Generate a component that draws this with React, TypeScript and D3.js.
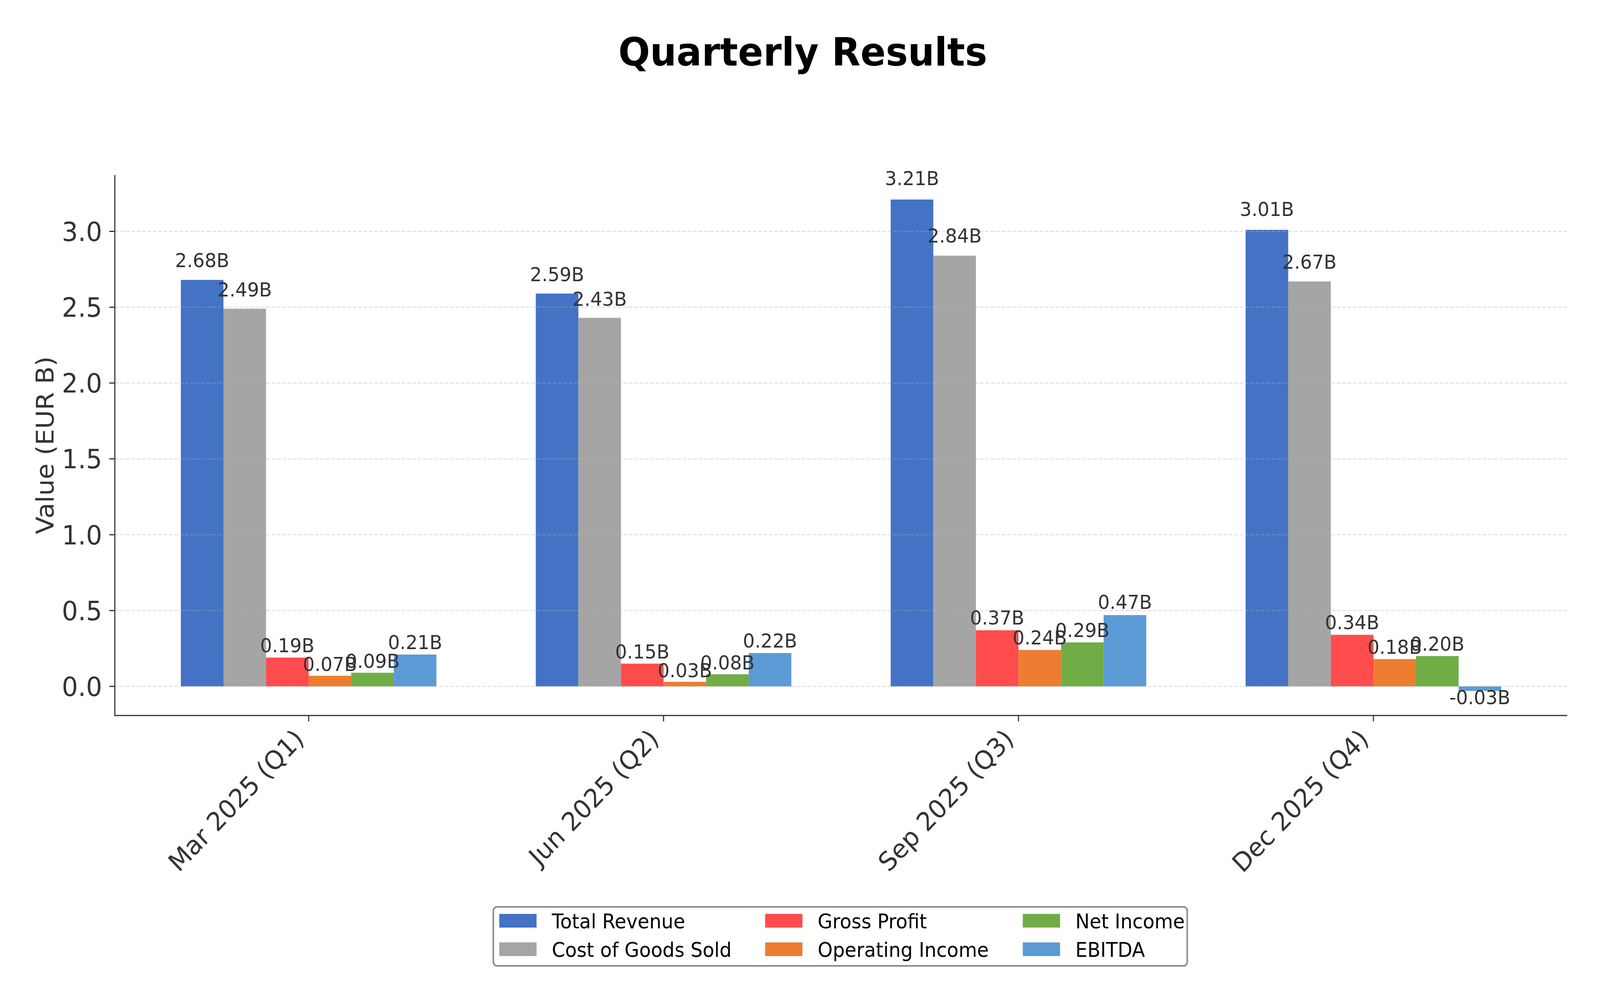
import { useEffect } from "react";
import * as d3 from "d3";

// data (EUR billions)
const quarters = ["Mar 2025 (Q1)", "Jun 2025 (Q2)", "Sep 2025 (Q3)", "Dec 2025 (Q4)"];
const seriesNames = ["Total Revenue", "Cost of Goods Sold", "Gross Profit", "Operating Income", "Net Income", "EBITDA"];
const seriesColors = ["#4472C4", "#A5A5A5", "#FF4C4C", "#ED7D31", "#70AD47", "#5B9BD5"];
const totalRevenue = [2.68, 2.59, 3.21, 3.01];
const costOfGoods = [2.49, 2.43, 2.84, 2.67];
const grossProfit = [0.19, 0.15, 0.37, 0.34];
const operatingIncome = [0.07, 0.03, 0.24, 0.18];
const netIncome = [0.09, 0.08, 0.29, 0.2];
const ebitda = [0.21, 0.22, 0.47, -0.03];
const yTicks = [0, 0.5, 1, 1.5, 2, 2.5, 3];

const seriesValues = [totalRevenue, costOfGoods, grossProfit, operatingIncome, netIncome, ebitda];

const W = 4291;
const H = 2563;
const plot = { left: 308, right: 4203, top: 448, bottom: 1832 };
const barW = 0.12;
const font = "'DejaVu Sans', 'Liberation Sans', sans-serif";
const ink = "#333333";

export default function App() {
  useEffect(() => {
    document.body.style.margin = "0";
    document.body.style.overflow = "hidden";
  }, []);

  const x = d3.scaleLinear().domain([-0.546, 3.546]).range([plot.left, plot.right]);
  const y = d3.scaleLinear().domain([-0.192, 3.372]).range([plot.bottom, plot.top]);
  const bw = x(barW) - x(0);

  // legend layout
  const legend = { x: 1323, y: 2322, w: 1861, h: 151 };
  const legendCols = [1339, 2052, 2743];
  const legendRows = [2340, 2413];

  return (
    <svg
      viewBox={`0 0 ${W} ${H}`}
      preserveAspectRatio="none"
      style={{ position: "fixed", left: 0, top: 0, width: "100vw", height: "100vh", display: "block", background: "#fff" }}
      fontFamily={font}
    >
      <rect x={0} y={0} width={W} height={H} fill="#fff" />
      <text x={2153} y={168} textAnchor="middle" fontSize={100} fontWeight="bold" fill="#000">
        Quarterly Results
      </text>

      {/* bars */}
      {seriesValues.map((vals, j) =>
        vals.map((v, i) => {
          const cx = i + (j - 2.5) * barW;
          return (
            <rect
              key={`b${j}-${i}`}
              x={x(cx - barW / 2)}
              width={bw}
              y={y(Math.max(v, 0))}
              height={Math.abs(y(v) - y(0))}
              fill={seriesColors[j]}
            />
          );
        })
      )}

      {/* grid on top of bars */}
      {yTicks.map((t) => (
        <line
          key={`g${t}`}
          x1={plot.left}
          x2={plot.right}
          y1={y(t)}
          y2={y(t)}
          stroke="#b0b0b0"
          strokeOpacity={0.35}
          strokeWidth={3}
          strokeDasharray="10,4.5"
        />
      ))}

      {/* value labels */}
      {seriesValues.map((vals, j) =>
        vals.map((v, i) => {
          const cx = i + (j - 2.5) * barW;
          const ty = v >= 0 ? y(v * 1.02) - 12 : y(v * 1.02) + 34;
          return (
            <text key={`l${j}-${i}`} x={x(cx)} y={ty} textAnchor="middle" fontSize={50} fill={ink}>
              {`${v.toFixed(2)}B`}
            </text>
          );
        })
      )}

      {/* spines */}
      <line x1={plot.left} x2={plot.left} y1={plot.top} y2={plot.bottom + 1.5} stroke={ink} strokeWidth={3} />
      <line x1={plot.left - 1.5} x2={plot.right} y1={plot.bottom} y2={plot.bottom} stroke={ink} strokeWidth={3} />

      {/* y axis */}
      {yTicks.map((t) => (
        <g key={`yt${t}`}>
          <line x1={plot.left - 15} x2={plot.left} y1={y(t)} y2={y(t)} stroke={ink} strokeWidth={3} />
          <text x={plot.left - 34} y={y(t)} dy="0.36em" textAnchor="end" fontSize={68} fill={ink}>
            {t.toFixed(1)}
          </text>
        </g>
      ))}
      <text
        transform={`translate(143, ${(plot.top + plot.bottom) / 2}) rotate(-90)`}
        textAnchor="middle"
        fontSize={66}
        fill={ink}
      >
        Value (EUR B)
      </text>

      {/* x axis */}
      {quarters.map((q, i) => (
        <g key={`xt${i}`}>
          <line x1={x(i)} x2={x(i)} y1={plot.bottom} y2={plot.bottom + 15} stroke={ink} strokeWidth={3} />
          <text
            transform={`translate(${x(i) - 9}, ${plot.bottom + 64}) rotate(-45)`}
            textAnchor="end"
            fontSize={66}
            fill={ink}
          >
            {q}
          </text>
        </g>
      ))}

      {/* legend */}
      <rect
        x={legend.x}
        y={legend.y}
        width={legend.w}
        height={legend.h}
        rx={10}
        fill="#fff"
        stroke="#888888"
        strokeWidth={4}
      />
      {seriesNames.map((name, k) => {
        const col = Math.floor(k / 2);
        const row = k % 2;
        const px = legendCols[col];
        const py = legendRows[row];
        return (
          <g key={`lg${k}`}>
            <rect x={px} y={py} width={100} height={35} fill={seriesColors[k]} />
            <text x={px + 141} y={py + 37} fontSize={51} fill="#000">
              {name}
            </text>
          </g>
        );
      })}
    </svg>
  );
}
